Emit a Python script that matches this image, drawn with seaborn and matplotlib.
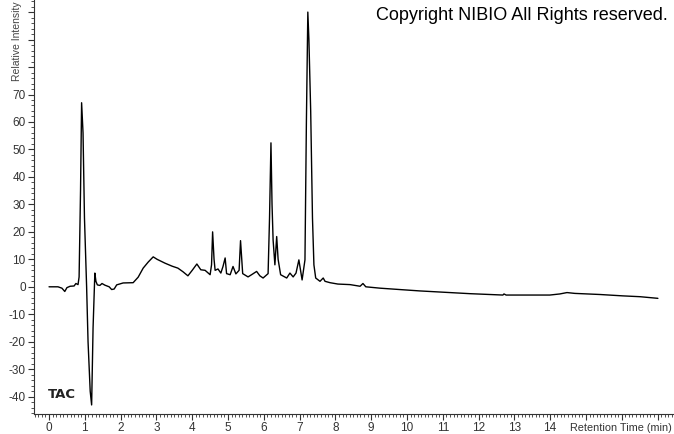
import matplotlib
matplotlib.use("Agg")
import matplotlib.pyplot as plt
import seaborn as sns
import pandas as pd
from matplotlib.ticker import MultipleLocator, FixedLocator

# chromatogram trace (retention time in min, relative intensity)
time_min = [0.00, 0.25, 0.36, 0.44, 0.50, 0.59, 0.70, 0.75, 0.81, 0.84, 0.88, 0.91,
            0.95, 0.99, 1.05, 1.09, 1.15, 1.19, 1.23, 1.28, 1.31, 1.35, 1.42, 1.48,
            1.56, 1.68, 1.75, 1.82, 1.89, 2.07, 2.35, 2.49, 2.63, 2.77, 2.91, 3.02,
            3.24, 3.44, 3.60, 3.74, 3.88, 4.00, 4.13, 4.24, 4.36, 4.50, 4.54, 4.57,
            4.61, 4.64, 4.72, 4.80, 4.86, 4.92, 4.96, 5.06, 5.14, 5.22, 5.31, 5.35,
            5.41, 5.56, 5.67, 5.80, 5.89, 5.98, 6.12, 6.16, 6.20, 6.23, 6.26, 6.31,
            6.36, 6.40, 6.47, 6.64, 6.73, 6.82, 6.90, 6.98, 7.07, 7.15, 7.19, 7.23,
            7.26, 7.31, 7.36, 7.40, 7.45, 7.57, 7.66, 7.71, 7.85, 8.07, 8.41, 8.69,
            8.77, 8.85, 9.25, 9.80, 10.36, 11.06, 11.76, 12.68, 12.71, 12.77, 13.99,
            14.27, 14.47, 14.69, 15.39, 16.03, 16.51, 17.01]
intensity = [0.0, 0.0, -0.5, -1.7, -0.3, 0.2, 0.3, 1.2, 0.8, 3.6, 35.0, 67.0,
             56.0, 25.0, 0.0, -20.0, -38.0, -43.0, -15.0, 5.0, 2.0, 0.7, 0.5, 1.2,
             0.6, 0.0, -1.0, -0.8, 0.7, 1.4, 1.5, 3.5, 6.8, 9.0, 10.9, 10.0,
             8.6, 7.5, 6.8, 5.5, 4.0, 6.0, 8.3, 6.2, 6.0, 4.4, 8.0, 20.0,
             10.0, 6.0, 6.5, 5.0, 7.4, 10.5, 4.8, 4.4, 7.4, 4.7, 6.0, 16.8,
             4.8, 3.6, 4.5, 5.6, 4.0, 3.2, 4.8, 25.0, 52.4, 30.0, 17.0, 8.0,
             18.3, 10.0, 4.4, 3.2, 5.0, 3.6, 5.0, 9.8, 2.5, 9.8, 60.0, 100.0,
             90.0, 64.0, 25.0, 8.0, 3.2, 2.0, 3.2, 2.0, 1.5, 1.0, 0.8, 0.2,
             1.2, 0.0, -0.5, -1.0, -1.5, -2.0, -2.5, -3.0, -2.6, -3.0, -3.0,
             -2.6, -2.1, -2.4, -2.8, -3.3, -3.6, -4.2]
y_major = [-40, -30, -20, -10, 0, 10, 20, 30, 40, 50, 60, 70, 80, 90, 100]
y_labels = ["-40", "-30", "-20", "-10", "0", "10", "20", "30", "40", "50", "60", "70", "", "", ""]
x_major = list(range(0, 18))
x_labels = [str(v) for v in range(0, 15)] + ["", "", ""]

df = pd.DataFrame({"Retention Time (min)": time_min, "Relative Intensity": intensity})

sns.set_style("ticks")
plt.rcParams['font.family'] = ['Liberation Sans', 'DejaVu Sans']

fig = plt.figure(figsize=(6.74, 4.34), dpi=100)
ax = fig.add_axes([34 / 674, 20 / 434, 1 - 34 / 674, 1 - 20 / 434])

sns.lineplot(data=df, x="Retention Time (min)", y="Relative Intensity",
             color="black", linewidth=1.0, ax=ax, sort=False)

ax.set_xlim(-0.42, 17.46)
ax.set_ylim(-46.3, 104.4)
ax.set_xlabel("")
ax.set_ylabel("")

ax.xaxis.set_major_locator(FixedLocator(x_major))
ax.set_xticklabels(x_labels)
ax.xaxis.set_minor_locator(MultipleLocator(0.1))
ax.yaxis.set_major_locator(FixedLocator(y_major))
ax.set_yticklabels(y_labels)
ax.yaxis.set_minor_locator(MultipleLocator(2))

ax.tick_params(which="major", direction="out", length=4, width=0.8, color="#333333",
               labelsize=8.5, labelcolor="#333333", pad=2)
ax.tick_params(which="minor", direction="out", length=2.2, width=0.6, color="#333333")
for side in ("top", "right"):
    ax.spines[side].set_visible(False)
for side in ("left", "bottom"):
    ax.spines[side].set_color("#333333")
    ax.spines[side].set_linewidth(0.8)

# axis titles placed like the instrument software does
fig.text(672 / 674, 1 - 428 / 434, "Retention Time (min)", ha="right", va="center",
         fontsize=7.8, color="#333333")
fig.text(17 / 674, 1 - 1 / 434, "Relative Intensity", rotation=90, ha="center",
         va="top", fontsize=7.5, color="#444444")

fig.text(668 / 674, 1 - 15 / 434, "Copyright NIBIO All Rights reserved.", ha="right",
         va="center", fontsize=13, color="black")
ax.text(48 / 674, 1 - 395 / 434, "TAC", transform=fig.transFigure, ha="left",
        va="center", fontsize=9.5, fontweight="bold", color="#222222",
        family=["DejaVu Sans"])

fig.savefig("out.png", dpi=100)
